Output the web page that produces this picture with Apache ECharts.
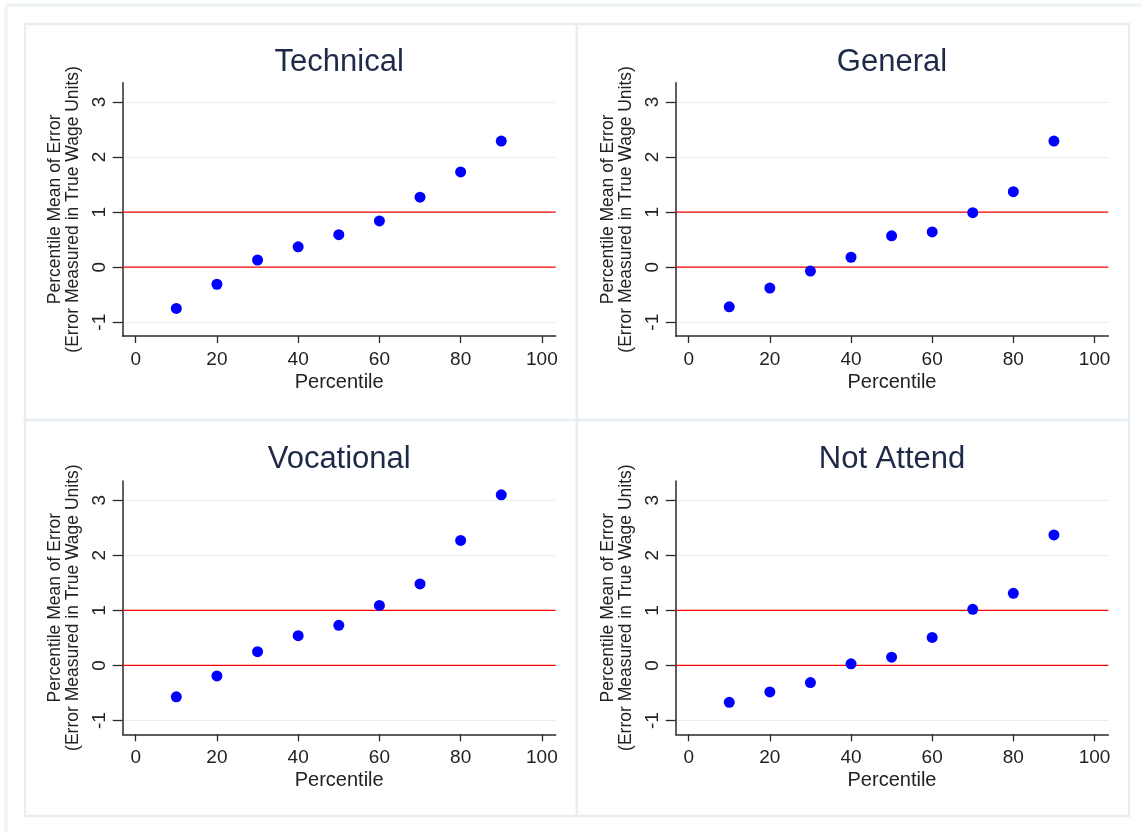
<!DOCTYPE html>
<html>
<head>
<meta charset="utf-8">
<script src="https://cdn.jsdelivr.net/npm/echarts@6/dist/echarts.min.js"></script>
<style>
html,body{margin:0;padding:0;background:#fff;}
#c{width:1142px;height:832px;}
</style>
</head>
<body>
<div id="c"></div>
<script>
// ---- data ----
const percentiles = [10, 20, 30, 40, 50, 60, 70, 80, 90];
const panelTitles = ['Technical', 'General', 'Vocational', 'Not Attend'];
const technical  = [-0.75, -0.31, 0.13, 0.37, 0.59, 0.84, 1.27, 1.73, 2.29];
const general    = [-0.72, -0.38, -0.07, 0.18, 0.57, 0.64, 0.99, 1.37, 2.29];
const vocational = [-0.57, -0.19, 0.25, 0.54, 0.73, 1.09, 1.48, 2.27, 3.10];
const notAttend  = [-0.67, -0.48, -0.31, 0.03, 0.15, 0.51, 1.02, 1.31, 2.37];
const xTicks = [0, 20, 40, 60, 80, 100];
const yTicks = [-1, 0, 1, 2, 3];
const refLines = [0, 1];
const xLabel = 'Percentile';
const yLabel = 'Percentile Mean of Error\n(Error Measured in True Wage Units)';

const seriesValues = [technical, general, vocational, notAttend];

// ---- layout ----
const FONT = '"Liberation Sans", Arial, sans-serif';
const X_MIN = -3.2, X_MAX = 103.4, Y_MIN = -1.25, Y_MAX = 3.35;
const grids = [
  {left: 122.7, top: 82.7, width: 433, height: 253.3},
  {left: 675.7, top: 82.7, width: 432.6, height: 253.3},
  {left: 122.7, top: 481, width: 433, height: 253.3},
  {left: 675.7, top: 481, width: 432.6, height: 253.3}
];
const panels = [
  {x: 25, y: 24, w: 552, h: 396},
  {x: 577, y: 24, w: 552, h: 396},
  {x: 25, y: 420, w: 552, h: 396},
  {x: 577, y: 420, w: 552, h: 396}
];

const chart = echarts.init(document.getElementById('c'), null, {renderer: 'canvas'});

const graphic = [
  {type: 'line', shape: {x1: 6, y1: 5, x2: 1142, y2: 5}, style: {stroke: '#eef3f5', lineWidth: 3}, z: -10},
  {type: 'line', shape: {x1: 6, y1: 5, x2: 6, y2: 832}, style: {stroke: '#eef3f5', lineWidth: 3}, z: -10}
];
panels.forEach(p => {
  graphic.push({type: 'rect', shape: {x: p.x, y: p.y, width: p.w, height: p.h},
    style: {fill: '#fff', stroke: '#e7eff2', lineWidth: 2.5}, z: -9});
});

const series = [];
seriesValues.forEach((vals, i) => {
  refLines.forEach(v => {
    series.push({
      type: 'line', xAxisIndex: i, yAxisIndex: i, silent: true,
      symbol: 'none', showSymbol: false,
      lineStyle: {color: '#ff0000', width: 1.3, type: 'solid'},
      data: [[X_MIN, v], [X_MAX, v]],
      z: 3
    });
  });
  series.push({
    type: 'scatter', xAxisIndex: i, yAxisIndex: i,
    symbol: 'circle', symbolSize: 11,
    itemStyle: {color: '#0000ff', opacity: 1},
    data: percentiles.map((p, k) => [p, vals[k]]),
    z: 5
  });
});

const option = {
  animation: false,
  backgroundColor: '#fff',
  graphic: graphic,
  title: panelTitles.map((t, i) => ({
    text: t,
    left: grids[i].left + grids[i].width / 2,
    top: i < 2 ? 47 : 444,
    textAlign: 'center',
    padding: 0,
    textStyle: {fontFamily: FONT, fontSize: 31, fontWeight: 'normal', color: '#1e2a48'}
  })),
  grid: grids.map(g => Object.assign({containLabel: false}, g)),
  xAxis: grids.map((g, i) => ({
    type: 'value', gridIndex: i, min: X_MIN, max: X_MAX,
    name: xLabel, nameLocation: 'middle', nameGap: 36,
    nameTextStyle: {fontFamily: FONT, fontSize: 20, color: '#222'},
    axisLine: {show: true, onZero: false, lineStyle: {color: '#2a2a2a', width: 1.5}},
    axisTick: {show: true, length: 7, customValues: xTicks, lineStyle: {color: '#2a2a2a', width: 1.3}},
    axisLabel: {customValues: xTicks, margin: 14, fontFamily: FONT, fontSize: 19, color: '#222'},
    splitLine: {show: false}
  })),
  yAxis: grids.map((g, i) => ({
    type: 'value', gridIndex: i, min: Y_MIN, max: Y_MAX,
    name: yLabel, nameLocation: 'middle', nameRotate: 90, nameGap: 40,
    nameTextStyle: {fontFamily: FONT, fontSize: 17.5, lineHeight: 18.5, color: '#222'},
    axisLine: {show: true, onZero: false, lineStyle: {color: '#2a2a2a', width: 1.5}},
    axisTick: {show: true, length: 10, customValues: yTicks, lineStyle: {color: '#2a2a2a', width: 1.3}},
    axisLabel: {customValues: yTicks, rotate: 90, margin: 13, fontFamily: FONT, fontSize: 19, color: '#222'},
    splitLine: {show: true, lineStyle: {color: '#e6eff1', width: 1.2}}
  })),
  series: series
};
chart.setOption(option);
</script>
</body>
</html>
